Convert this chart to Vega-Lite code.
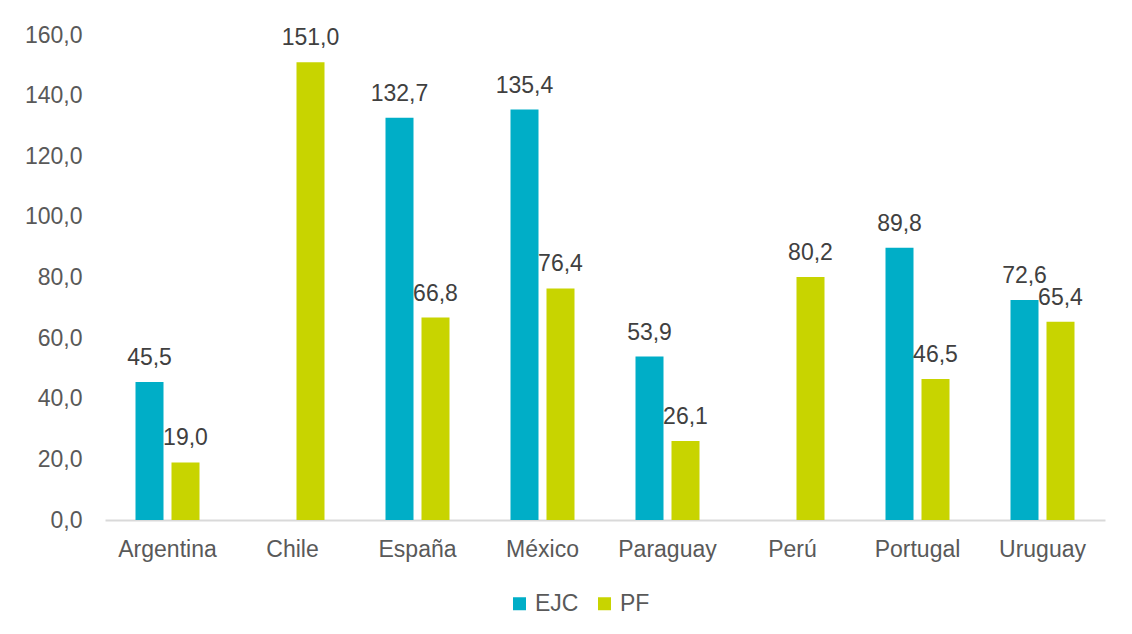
{
  "$schema": "https://vega.github.io/schema/vega-lite/v6.json",
  "width": 1000,
  "height": 485,
  "autosize": {"type": "none"},
  "padding": {"left": 105, "top": 35, "right": 27, "bottom": 114},
  "background": "white",
  "config": {
    "locale": {"number": {"decimal": ",", "thousands": ".", "grouping": [3], "currency": ["", " €"]}},
    "view": {"stroke": null},
    "font": "Liberation Sans"
  },
  "data": {
    "values": [
      {"pais": "Argentina", "serie": "EJC", "valor": 45.5},
      {"pais": "Argentina", "serie": "PF", "valor": 19.0},
      {"pais": "Chile", "serie": "PF", "valor": 151.0},
      {"pais": "España", "serie": "EJC", "valor": 132.7},
      {"pais": "España", "serie": "PF", "valor": 66.8},
      {"pais": "México", "serie": "EJC", "valor": 135.4},
      {"pais": "México", "serie": "PF", "valor": 76.4},
      {"pais": "Paraguay", "serie": "EJC", "valor": 53.9},
      {"pais": "Paraguay", "serie": "PF", "valor": 26.1},
      {"pais": "Perú", "serie": "PF", "valor": 80.2},
      {"pais": "Portugal", "serie": "EJC", "valor": 89.8},
      {"pais": "Portugal", "serie": "PF", "valor": 46.5},
      {"pais": "Uruguay", "serie": "EJC", "valor": 72.6},
      {"pais": "Uruguay", "serie": "PF", "valor": 65.4}
    ]
  },
  "encoding": {
    "x": {
      "field": "pais", "type": "nominal", "sort": null,
      "scale": {"paddingInner": 0.488, "paddingOuter": 0.244},
      "axis": {
        "title": null, "labelAngle": 0, "labelFontSize": 23, "labelColor": "#595959",
        "labelPadding": 18, "ticks": false, "domainColor": "#d9d9d9", "domainWidth": 2,
        "labelFont": "Liberation Sans"
      }
    },
    "xOffset": {"field": "serie", "type": "nominal", "scale": {"domain": ["EJC", "PF"], "paddingInner": 0.222, "paddingOuter": 0}},
    "y": {
      "field": "valor", "type": "quantitative",
      "scale": {"domain": [0, 160], "nice": false},
      "axis": {
        "title": null, "values": [0, 20, 40, 60, 80, 100, 120, 140, 160], "format": ".1f",
        "grid": false, "domain": false, "ticks": false, "labelFontSize": 23,
        "labelColor": "#595959", "labelPadding": 23, "labelFont": "Liberation Sans"
      }
    }
  },
  "layer": [
    {
      "mark": {"type": "bar"},
      "encoding": {
        "color": {
          "field": "serie", "type": "nominal",
          "scale": {"domain": ["EJC", "PF"], "range": ["#00AEC7", "#C8D400"]},
          "legend": {
            "title": null, "orient": "none", "direction": "horizontal",
            "legendX": 403, "legendY": 557,
            "symbolType": "square", "symbolSize": 169, "symbolStrokeWidth": 0,
            "labelFontSize": 23, "labelColor": "#595959", "labelOffset": 4,
            "columnPadding": 14, "labelFont": "Liberation Sans"
          }
        }
      }
    },
    {
      "mark": {"type": "text", "baseline": "bottom", "dy": -12, "fontSize": 23, "color": "#404040", "font": "Liberation Sans"},
      "encoding": {
        "text": {"field": "valor", "type": "quantitative", "format": ".1f"}
      }
    }
  ]
}
